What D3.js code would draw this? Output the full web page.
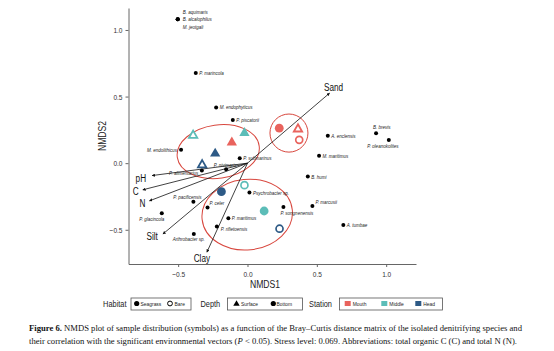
<!DOCTYPE html>
<html>
<head>
<meta charset="utf-8">
<script src="https://cdn.jsdelivr.net/npm/d3@7"></script>
<style>
body{margin:0;background:#fff;}
svg text{font-family:"Liberation Sans",Arial,sans-serif;}
svg text.cap{font-family:"Liberation Serif","Times New Roman",serif;}
</style>
</head>
<body>
<div id="chart"></div>
<script>
var width = 554, height = 351;

// species scores (NMDS1, NMDS2)
var species = ["B. aquimaris","B. alcalophilus","M. jeotgali","P. marincola","M. endophyticus",
  "P. piscatorii","M. endolithicus","P. submarinus","P. nivimaris","P. alimentarius",
  "P. pacificensis","P. glacincola","Arthrobacter sp.","P. celer","P. maritimus",
  "P. rifietoensis","Psychrobacter sp.","P. songnenensis","P. marcusii","A. tumbae",
  "B. humi","M. maritimus","A. enclensis","B. brevis","P. oleanokolites"];
var speciesX = [-0.503,-0.503,-0.503,-0.373,-0.226,-0.106,-0.479,-0.056,-0.154,-0.329,
  -0.390,-0.618,-0.387,-0.288,-0.138,-0.221,0.014,0.259,0.468,0.691,
  0.435,0.516,0.579,0.927,1.019];
var speciesY = [1.080,1.080,1.080,0.677,0.418,0.324,0.100,0.037,-0.046,-0.055,
  -0.289,-0.376,-0.532,-0.333,-0.414,-0.475,-0.221,-0.329,-0.321,-0.464,
  -0.101,0.056,0.206,0.224,0.174];

// sample scores
var sampleStation = ["Mouth","Mouth","Mouth","Mouth","Middle","Middle","Middle","Middle","Head","Head","Head","Head"];
var sampleDepth   = ["Surface","Bottom","Surface","Bottom","Surface","Surface","Bottom","Bottom","Surface","Surface","Bottom","Bottom"];
var sampleHabitat = ["Seagrass","Seagrass","Bare","Bare","Seagrass","Bare","Bare","Seagrass","Seagrass","Bare","Seagrass","Bare"];
var sampleX = [-0.113,0.229,0.364,0.373,-0.022,-0.392,-0.022,0.120,-0.233,-0.327,-0.188,0.231];
var sampleY = [0.155,0.263,0.256,0.175,0.226,0.208,-0.165,-0.359,0.072,-0.013,-0.214,-0.492];

// environmental vectors
var vectors = ["Sand","pH","C","N","Silt","Clay"];
var vectorX = [0.592,-0.688,-0.755,-0.707,-0.610,-0.293];
var vectorY = [0.526,-0.093,-0.200,-0.283,-0.532,-0.669];

// cluster ellipses (centre and radii in NMDS units, tilt in degrees)
var ellipseX = [-0.211,0.299,-0.002];
var ellipseY = [0.087,0.226,-0.386];
var ellipseRx = [0.298,0.137,0.327];
var ellipseRy = [0.200,0.143,0.265];
var ellipseTilt = [-8,0,-6];

var xTicks = [-0.5,0,0.5,1.0];
var yTicks = [-0.5,0,0.5,1.0];
var stations = ["Mouth","Middle","Head"];

// label placement [dx, dy, anchor]
var labelPos = {
  "B. aquimaris":[5,-7,"start"], "B. alcalophilus":[5,0,"start"], "M. jeotgali":[5,7.5,"start"],
  "M. endolithicus":[-4,0,"end"], "P. nivimaris":[-1,-4.5,"middle"], "P. alimentarius":[-3.5,2.5,"end"],
  "P. pacificensis":[-6,-5,"middle"], "P. glacincola":[-10,5.5,"middle"], "Arthrobacter sp.":[-5,5.5,"middle"],
  "P. celer":[2,-4,"start"], "P. rifietoensis":[4,3,"start"], "P. songnenensis":[-3,6,"start"],
  "P. marcusii":[3,-3.5,"start"], "B. brevis":[-3,-6,"start"], "P. oleanokolites":[-6,6,"middle"]
};
var vecLabelPos = {"Sand":[4,-6,"middle"],"pH":[-6,2.5,"end"],"C":[-4,1.7,"end"],
  "N":[-4,2.3,"end"],"Silt":[-5,2,"end"],"Clay":[-5,6,"middle"]};

var color = d3.scaleOrdinal().domain(stations).range(["#E9635D","#5CBDB8","#2D5A86"]);

var svg = d3.select("#chart").append("svg")
  .attr("width", width).attr("height", height)
  .style("background","#fff");

var x = d3.scaleLinear().domain([-0.858,1.215]).range([128.5,416]);
var y = d3.scaleLinear().domain([-0.757,1.165]).range([264,8]);

// axes
var xAxis = svg.append("g").attr("transform","translate(0,264)")
  .call(d3.axisBottom(x).tickValues(xTicks).tickFormat(d3.format(".1f")).tickSize(3).tickSizeOuter(0));
var yAxis = svg.append("g").attr("transform","translate(128.5,0)")
  .call(d3.axisLeft(y).tickValues(yTicks).tickFormat(d3.format(".1f")).tickSize(3).tickSizeOuter(0));
[xAxis,yAxis].forEach(function(a){
  a.select(".domain").attr("stroke","#666").attr("stroke-width",1);
  a.selectAll(".tick line").attr("stroke","#666");
  a.selectAll(".tick text").attr("fill","#333").style("font-size","8px")
    .style("font-family",'"Liberation Sans",Arial,sans-serif');
});
xAxis.selectAll(".tick text").attr("dy","0.85em");

svg.append("text").attr("x",265).attr("y",288).attr("text-anchor","middle")
  .style("font-size","10.5px").attr("fill","#222").text("NMDS1");
svg.append("text").attr("transform","translate(106,136) rotate(-90)").attr("text-anchor","middle")
  .style("font-size","10.5px").attr("fill","#222").text("NMDS2");

// ellipses
svg.append("g").selectAll("ellipse").data(ellipseX).enter().append("ellipse")
  .attr("transform",function(d,i){ return "translate("+x(d)+","+y(ellipseY[i])+") rotate("+ellipseTilt[i]+")"; })
  .attr("rx",function(d,i){ return x(ellipseRx[i])-x(0); })
  .attr("ry",function(d,i){ return y(0)-y(ellipseRy[i]); })
  .attr("fill","none").attr("stroke","#D8473E").attr("stroke-width",1);

// vectors
svg.append("defs").append("marker").attr("id","arrow")
  .attr("viewBox","0 0 10 10").attr("refX",9).attr("refY",5)
  .attr("markerWidth",4).attr("markerHeight",4).attr("orient","auto")
  .append("path").attr("d","M0,0L10,5L0,10z").attr("fill","#111");
var vg = svg.append("g");
vg.selectAll("line").data(vectors).enter().append("line")
  .attr("x1",x(0)).attr("y1",y(0))
  .attr("x2",function(d,i){ return x(vectorX[i]); })
  .attr("y2",function(d,i){ return y(vectorY[i]); })
  .attr("stroke","#111").attr("stroke-width",0.8).attr("marker-end","url(#arrow)");
vg.selectAll("text").data(vectors).enter().append("text")
  .attr("x",function(d,i){ return x(vectorX[i]) + vecLabelPos[d][0]; })
  .attr("y",function(d,i){ return y(vectorY[i]) + vecLabelPos[d][1]; })
  .attr("dy","0.35em").attr("text-anchor",function(d){ return vecLabelPos[d][2]; })
  .style("font-size","10px").attr("fill","#111").text(function(d){ return d; });

// species
var sg = svg.append("g");
sg.selectAll("circle").data(species).enter().append("circle")
  .attr("cx",function(d,i){ return x(speciesX[i]); })
  .attr("cy",function(d,i){ return y(speciesY[i]); })
  .attr("r",2).attr("fill","#000");
sg.selectAll("text").data(species).enter().append("text")
  .attr("x",function(d,i){ var p = labelPos[d] || [3.5,0,"start"]; return x(speciesX[i]) + p[0]; })
  .attr("y",function(d,i){ var p = labelPos[d] || [3.5,0,"start"]; return y(speciesY[i]) + p[1]; })
  .attr("dy","0.35em")
  .attr("text-anchor",function(d){ return (labelPos[d] || [0,0,"start"])[2]; })
  .style("font-size","5.5px").style("font-style","italic").attr("fill","#222")
  .text(function(d){ return d; });

// samples
var tri = d3.symbol().type(d3.symbolTriangle);
var pg = svg.append("g");
sampleX.forEach(function(v,i){
  var c = color(sampleStation[i]), open = sampleHabitat[i] == "Bare";
  if (sampleDepth[i] == "Surface") {
    pg.append("path").attr("d", tri.size(open ? 30 : 46)())
      .attr("transform","translate("+x(v)+","+y(sampleY[i])+")")
      .attr("fill", open ? "#fff" : c).attr("stroke", open ? c : "none").attr("stroke-width",1.8);
  } else {
    pg.append("circle").attr("cx",x(v)).attr("cy",y(sampleY[i]))
      .attr("r", open ? 3.5 : 4.4)
      .attr("fill", open ? "#fff" : c).attr("stroke", open ? c : "none").attr("stroke-width",1.7);
  }
});

// legend
var lg = svg.append("g");
function legTitle(t, xx, anchor){
  lg.append("text").attr("x",xx).attr("y",304).attr("dy","0.35em").attr("text-anchor",anchor)
    .style("font-size","9px").attr("fill","#222").text(t);
}
function legBox(x0, w){
  lg.append("rect").attr("x",x0).attr("y",298).attr("width",w).attr("height",12)
    .attr("fill","none").attr("stroke","#555").attr("stroke-width",0.8);
}
function legText(t, xx){
  lg.append("text").attr("x",xx).attr("y",304).attr("dy","0.35em")
    .style("font-size","6px").attr("fill","#222").text(t);
}
legTitle("Habitat",126.5,"end");
legBox(131,60);
lg.append("circle").attr("cx",136.7).attr("cy",303.5).attr("r",2.6).attr("fill","#000");
legText("Seagrass",140.5);
lg.append("circle").attr("cx",170).attr("cy",303.5).attr("r",2.4).attr("fill","none").attr("stroke","#000").attr("stroke-width",1);
legText("Bare",174.5);
legTitle("Depth",200.5,"start");
legBox(227.5,75);
lg.append("path").attr("d",tri.size(18)()).attr("transform","translate(236.5,304)").attr("fill","#000");
legText("Surface",241);
lg.append("circle").attr("cx",273.3).attr("cy",303.5).attr("r",2.6).attr("fill","#000");
legText("Bottom",276.5);
legTitle("Station",309,"start");
legBox(339.5,103);
var sqX = [347.7,384.3,418.3];
stations.forEach(function(s,i){
  lg.append("rect").attr("x",sqX[i]-3).attr("y",301).attr("width",6).attr("height",5).attr("fill",color(s));
  legText(s, sqX[i]+5);
});

// condensed look (the original uses a narrow sans); re-anchor to start so the squeeze keeps position
svg.selectAll("text").each(function(){
  var w = this.getComputedTextLength(), nw = w * 0.82;
  var a = getComputedStyle(this).textAnchor;
  var t = d3.select(this), x0 = +t.attr("x") || 0;
  if (a == "end") x0 -= nw; else if (a == "middle") x0 -= nw / 2;
  t.attr("x", x0).attr("text-anchor","start")
    .attr("textLength", nw).attr("lengthAdjust","spacingAndGlyphs");
});

// caption
var cap1 = svg.append("text").attr("class","cap").attr("x",29).attr("y",331)
  .style("font-size","8.2px").attr("fill","#111");
cap1.append("tspan").style("font-weight","bold").text("Figure 6.");
cap1.append("tspan").text(" NMDS plot of sample distribution (symbols) as a function of the Bray\u2013Curtis distance matrix of the isolated denitrifying species and");
cap1.attr("textLength",493).attr("lengthAdjust","spacingAndGlyphs");
var cap2 = svg.append("text").attr("class","cap").attr("x",29).attr("y",343.5)
  .style("font-size","8.2px").attr("fill","#111");
cap2.append("tspan").text("their correlation with the significant environmental vectors (");
cap2.append("tspan").style("font-style","italic").text("P");
cap2.append("tspan").text(" < 0.05). Stress level: 0.069. Abbreviations: total organic C (C) and total N (N).");
cap2.attr("textLength",488).attr("lengthAdjust","spacingAndGlyphs");
</script>
</body>
</html>
